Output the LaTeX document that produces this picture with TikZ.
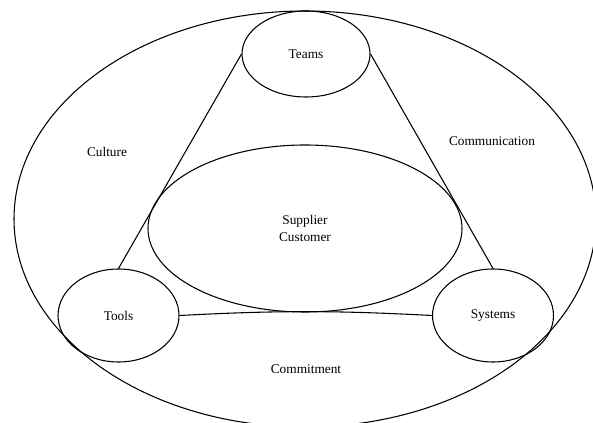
\documentclass[tikz,border=0pt]{standalone}
\usepackage{fontspec}
\setmainfont{Liberation Serif}
\usetikzlibrary{shapes.geometric}
\newlength\unitpx
\setlength\unitpx{0.75pt}
\begin{document}
\begin{tikzpicture}[x=0.75pt,y=-0.75pt,
        ring/.style={draw,ellipse,line width=0.8pt,inner sep=0pt},
        word/.style={font=\fontsize{10}{12.75}\selectfont,align=center}]
        \useasboundingbox (0,0) rectangle (593,423);
        \clip (0,0) rectangle (593,423);
        % region
        \node[ring,minimum width=582\unitpx,minimum height=416\unitpx] (outer) at (305,219) {};
        \node[ring,minimum width=314\unitpx,minimum height=167\unitpx,word] (core) at (305,228.5) {Supplier\\Customer};
        % corners
        \node[ring,minimum width=128\unitpx,minimum height=86\unitpx,word] (teams) at (306,54) {Teams};
        \node[ring,minimum width=121\unitpx,minimum height=93\unitpx,word] (tools) at (118.5,315.5) {Tools};
        \node[ring,minimum width=121\unitpx,minimum height=93\unitpx,word] (systems) at (493,315.5) {Systems};
        % links
        \draw[line width=0.8pt] (teams.west) -- (tools.north);
        \draw[line width=0.8pt] (teams.east) -- (systems.north);
        \draw[line width=0.8pt] (tools.east) to[bend left=3] (systems.west);
        % text
        \node[word] (culture) at (107,152) {Culture};
        \node[word] (communication) at (492,141) {Communication};
        \node[word] (commitment) at (306,369) {Commitment};
    \end{tikzpicture}
\end{document}
